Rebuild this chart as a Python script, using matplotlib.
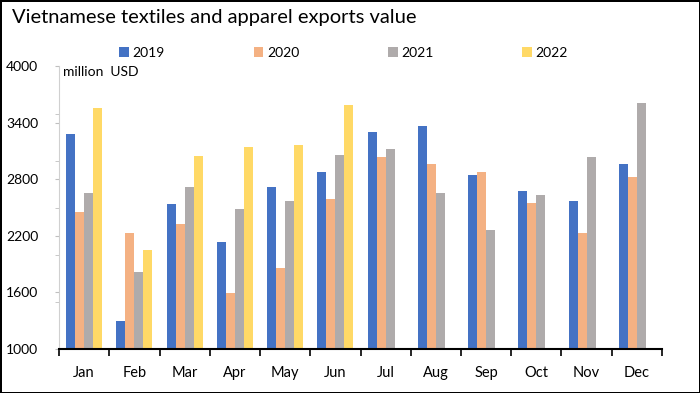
import numpy as np
import matplotlib.pyplot as plt

plt.rcParams['font.family'] = ['Lato', 'DejaVu Sans']

months = ['Jan', 'Feb', 'Mar', 'Apr', 'May', 'Jun',
          'Jul', 'Aug', 'Sep', 'Oct', 'Nov', 'Dec']
years = ['2019', '2020', '2021', '2022']
v2019 = [3285, 1298, 2534, 2133, 2725, 2877, 3299, 3370, 2842, 2675, 2576, 2962]
v2020 = [2459, 2233, 2332, 1595, 1861, 2590, 3033, 2962, 2877, 2551, 2233, 2821]
v2021 = [2651, 1815, 2725, 2484, 2566, 3058, 3122, 2651, 2268, 2640, 3033, 3610]
v2022 = [3561, 2052, 3047, 3143, 3164, 3586, np.nan, np.nan, np.nan, np.nan, np.nan, np.nan]
colors = ['#4472C4', '#F4B183', '#AFABAB', '#FFD966']

fig = plt.figure(figsize=(7, 3.93), dpi=100, linewidth=2, edgecolor='black')
ax = fig.add_axes([0.0843, 0.112, 0.8614, 0.719])

x = np.arange(len(months))
w = 0.18
series = [v2019, v2020, v2021, v2022]
for i, vals in enumerate(series):
    vals = np.array(vals, dtype=float)
    ax.bar(x + (i - 1.5) * w, vals - 1000, bottom=1000, width=w,
           color=colors[i], label=years[i])

ax.set_ylim(1000, 4000)
ax.set_xlim(-0.5, 11.5)
ax.set_yticks(np.arange(1000, 4001, 600))
ax.set_yticks(np.arange(1000, 4001, 500), minor=True)
ax.tick_params(axis='y', which='both', length=3, color='#BFBFBF', labelsize=10, pad=12)

# category boundaries as ticks, labels at centres
ax.set_xticks(np.arange(-0.5, 12, 1))
ax.set_xticklabels([])
ax.set_xticks(x, minor=True)
ax.set_xticklabels(months, minor=True)
ax.tick_params(axis='x', which='major', length=5, width=1.2, color='black')
ax.tick_params(axis='x', which='minor', length=0, labelsize=10.5, pad=12)

for s in ['top', 'right']:
    ax.spines[s].set_visible(False)
ax.spines['left'].set_color('#D0D0D0')
ax.spines['bottom'].set_linewidth(1.5)

fig.text(12 / 700, 1 - 17 / 393, 'Vietnamese textiles and apparel exports value',
         fontsize=14.5, va='center', ha='left')
fig.text(63 / 700, 1 - 72 / 393, 'million  USD', fontsize=10, va='center', ha='left')

fig.legend(loc='center', bbox_to_anchor=(0.491, 1 - 53 / 393), ncol=4, frameon=False,
           fontsize=10, handlelength=0.7, handleheight=0.7, handletextpad=0.25,
           columnspacing=6.4)

fig.savefig('out.png', dpi=100)
